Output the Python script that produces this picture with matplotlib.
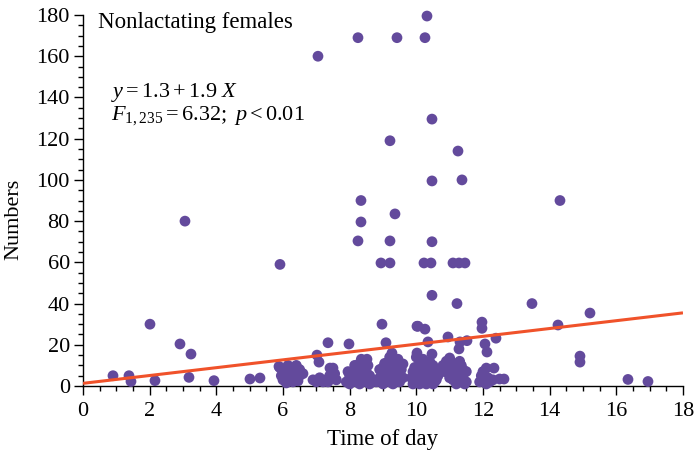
import matplotlib
matplotlib.use("Agg")
import matplotlib.pyplot as plt
from matplotlib.ticker import MultipleLocator

plt.rcParams['font.family'] = ['Liberation Serif', 'DejaVu Serif']
plt.rcParams['mathtext.fontset'] = 'custom'
plt.rcParams['mathtext.rm'] = 'Liberation Serif'
plt.rcParams['mathtext.it'] = 'Liberation Serif:italic'

# Isolated / sparse points (time of day, numbers)
sparse_x = [7.05, 8.25, 9.42, 10.26, 10.32, 10.47, 9.21, 11.25, 11.37, 10.47,
            14.31, 8.34, 8.34, 9.36, 3.06, 8.25, 9.21, 10.47, 5.91, 8.94,
            9.21, 10.23, 10.44, 11.1, 11.28, 11.46, 10.47, 11.22, 13.47, 14.25,
            15.21, 2.01, 2.91, 3.24, 0.9, 1.38, 1.44, 2.16, 3.18, 3.93,
            5.01, 5.31, 14.91, 14.91, 16.35, 16.95,
            8.97, 10.02, 7.35, 7.98, 9.09, 10.05, 10.26, 11.97, 11.97, 10.95,
            11.31, 11.52, 12.39, 10.35, 12.06, 12.12, 11.28, 10.47, 10.02, 9.27,
            7.02, 7.08, 8.52, 5.88]
sparse_y = [160, 169, 169, 169, 179.5, 129.5, 119, 114, 100, 99.5,
            90, 90, 79.6, 83.5, 80, 70.4, 70.4, 70, 59, 59.7,
            59.7, 59.7, 59.7, 59.7, 59.7, 59.7, 44, 40, 40, 29.6,
            35.4, 30, 20.4, 15.5, 5.0, 5.0, 2.2, 2.6, 4.2, 2.6,
            3.4, 3.9, 14.5, 11.6, 3.2, 2.2,
            30, 29, 21, 20.4, 21, 29, 27.6, 31, 28, 23.8,
            21.4, 22, 23.2, 21.4, 20.4, 16.5, 18, 15.5, 16, 16,
            15, 11.6, 13, 9.5]

# Dense clusters near the bottom
cluster_x = [5.9, 6.0, 6.1, 6.0, 6.2, 6.3, 6.4, 6.2, 6.3, 6.5, 6.4, 6.1, 6.5, 6.6, 5.95, 6.25, 6.15, 6.45,
             6.9, 7.0, 7.1, 7.2, 7.3, 7.4, 7.5, 7.45, 7.55, 7.35, 7.6, 7.41,
             7.9, 8.0, 8.1, 8.0, 8.2, 8.3, 8.4, 8.5, 8.6, 8.1, 8.2, 8.3, 8.4, 8.5, 8.3, 8.45, 8.55, 8.2, 8.6, 7.95, 8.4, 8.15, 8.6, 8.35,
             8.8, 8.9, 9.0, 9.1, 9.2, 9.3, 9.4, 9.5, 9.6, 8.9, 9.0, 9.1, 9.2, 9.3, 9.4, 9.5, 9.6, 9.2, 9.05, 9.45, 9.15, 9.35, 9.55, 9.0,
             9.9, 10.0, 10.1, 10.2, 10.3, 10.4, 10.5, 10.6, 9.85, 10.0, 10.1, 10.2, 10.3, 10.4, 10.5, 10.6, 9.95, 10.1, 10.2, 10.3, 10.4, 10.0, 10.15, 10.05, 10.25, 10.35, 10.45, 10.55, 10.65, 10.1, 10.3, 10.5, 9.9, 10.2, 10.4,
             10.8, 10.9, 11.0, 11.1, 11.2, 11.3, 11.4, 10.85, 11.0, 11.1, 11.2, 11.3, 11.4, 11.5, 11.3, 11.1, 11.0, 11.2, 11.4, 11.5, 10.95, 11.25, 11.35, 11.45,
             11.9, 12.0, 12.05, 12.1, 12.33, 12.1, 12.2, 11.95, 12.0, 12.5, 12.63, 12.3, 12.15]
cluster_y = [9, 7, 5, 3, 9, 7, 10, 3, 2, 5, 4, 1.5, 8, 6, 5, 6, 10, 2.5,
             3, 2, 4, 2, 3, 5, 8.7, 4, 6, 2, 3, 8.7,
             2, 1, 3, 5, 2, 1, 3, 2, 1, 6, 8, 6, 9, 7, 11, 12, 10, 4, 5, 7, 5, 10, 3, 13,
             2, 4, 1, 3, 2, 1, 3, 2, 4, 8, 6, 10, 7, 12, 9, 6, 10.7, 14, 11, 13, 5, 5, 8, 9,
             1, 2, 1, 3, 1, 2, 1, 3, 4, 5, 7, 9, 6, 8, 5, 7, 9, 11, 13, 11, 12, 14, 13, 3, 4, 3, 4, 2, 5, 4, 9, 10, 7, 6, 6,
             10, 12, 13.6, 11, 9, 12, 8, 7, 8, 6, 5, 4, 3, 2, 2, 3, 4, 1, 5, 7, 10, 7, 10, 1,
             2, 3, 5, 8.7, 8.7, 1, 2, 5, 7, 3.4, 3.4, 3, 4]

intercept = 1.3
slope = 1.9
x_range = [0, 18]

fig = plt.figure(figsize=(6.95, 4.55), dpi=100)
ax = fig.add_axes([0.1194, 0.1516, 0.8633, 0.8154])

purple = '#634a9c'
ax.scatter(sparse_x + cluster_x, sparse_y + cluster_y, s=60, color=purple,
           edgecolors='none', zorder=3, clip_on=False)
ax.plot(x_range, [intercept + slope * v for v in x_range], color='#f0522a',
        lw=2.2, zorder=4, solid_capstyle='butt')

ax.set_xlim(0, 18)
ax.set_ylim(0, 180)
ax.xaxis.set_major_locator(MultipleLocator(2))
ax.xaxis.set_minor_locator(MultipleLocator(0.5))
ax.yaxis.set_major_locator(MultipleLocator(20))
ax.yaxis.set_minor_locator(MultipleLocator(5))
for s in ['top', 'right']:
    ax.spines[s].set_visible(False)
for s in ['left', 'bottom']:
    ax.spines[s].set_linewidth(1.0)
ax.tick_params(which='major', direction='out', length=6.5, width=1.0,
               labelsize=16, colors='black')
ax.tick_params(axis='x', which='major', pad=5)
ax.tick_params(axis='y', which='major', pad=3)
ax.tick_params(which='minor', direction='out', length=3.5, width=1.0)

ax.set_xlabel('Time of day', fontsize=16.5, labelpad=6)
ax.set_ylabel('Numbers', fontsize=16)
ax.yaxis.set_label_coords(-0.1, 0.45)

ax.text(0.45, 176.5, 'Nonlactating females', fontsize=16.5, va='center', ha='left')
ax.text(0.85, 142.5, r'$y = 1.3 + 1.9\ X$', fontsize=16, va='center', ha='left')
ax.text(0.85, 131, r'$F_{\mathrm{1,235}} = \mathrm{6.32;}\ p < \mathrm{0.01}$', fontsize=16,
        va='center', ha='left')

fig.savefig('out.png', dpi=100)
